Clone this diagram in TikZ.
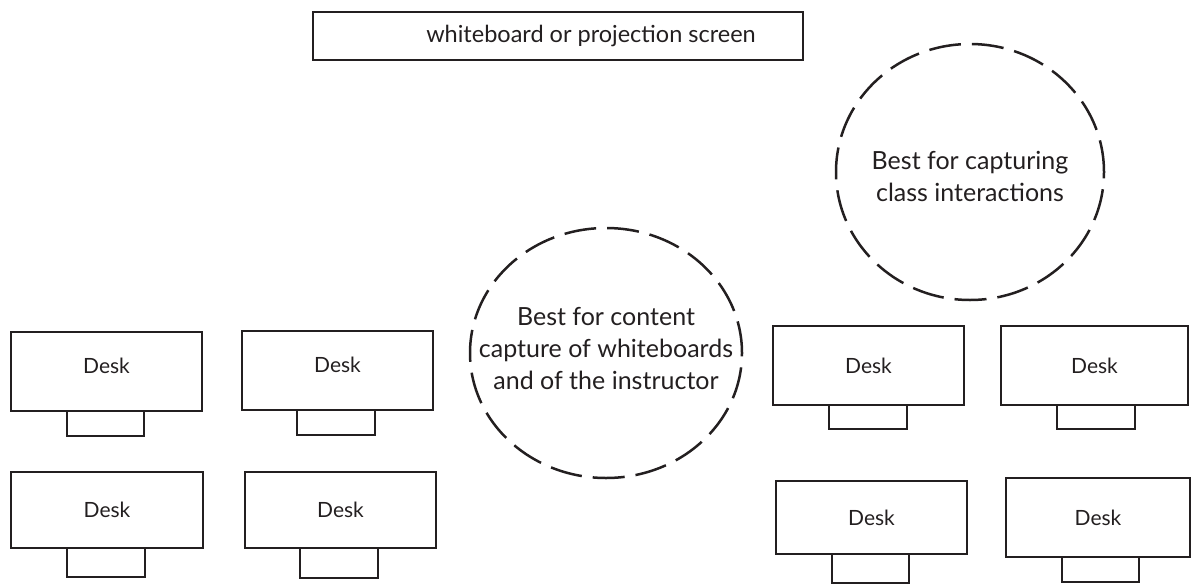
\documentclass[tikz,border=0pt]{standalone}
\usepackage{fontspec}
\setmainfont{Lato}
\usetikzlibrary{shapes.geometric}
\definecolor{ink}{HTML}{231F20}
\tikzset{
  desk/.style={draw=ink, line width=2.5pt, rectangle, inner sep=0pt, outer sep=0pt,
    font=\fontsize{21}{24}\selectfont, text=ink, text height=15pt, text depth=0pt},
  deskhi/.style={desk, text depth=12pt},
  chair/.style={draw=ink, line width=2.5pt, rectangle, inner sep=0pt, outer sep=0pt},
  board/.style={draw=ink, line width=2.5pt, rectangle, inner sep=0pt, outer sep=0pt,
    font=\fontsize{23.5}{28}\selectfont, text=ink},
  zone/.style={draw=ink, line width=2.5pt, ellipse, dash pattern=on 32pt off 11pt,
    inner sep=0pt},
  zonetext/.style={align=center, font=\fontsize{25}{32}\selectfont, text=ink, inner sep=0pt}
}
\begin{document}
\begin{tikzpicture}[x=1pt,y=-1pt]
\useasboundingbox (0,0) rectangle (1192,584);
\node[board, minimum width=490, minimum height=48] (wb) at (558,36) {\hspace*{66pt}whiteboard or projection screen};
\node[zone, minimum width=268, minimum height=256,
  label={[zonetext, yshift=-4pt]center:Best for capturing\\class interactions}] (z1) at (970,172) {};
\node[zone, minimum width=272, minimum height=250,
  label={[zonetext, yshift=4pt]center:Best for content\\capture of whiteboards\\and of the instructor}] (z2) at (606,353) {};
% left desks
\node[deskhi, minimum width=191, minimum height=79] (d1) at (106.5,371.5) {Desk};
\node[chair, minimum width=77, minimum height=25] (c1) at (105.5,423.5) {};
\node[deskhi, minimum width=191, minimum height=79] (d2) at (337.5,370.5) {Desk};
\node[chair, minimum width=78, minimum height=25] (c2) at (336,422.5) {};
\node[desk, minimum width=192, minimum height=76] (d3) at (107,510) {Desk};
\node[chair, minimum width=78, minimum height=29] (c3) at (106,562.5) {};
\node[desk, minimum width=191, minimum height=76] (d4) at (340.5,510) {Desk};
\node[chair, minimum width=78, minimum height=30] (c4) at (339,563) {};
% right desks
\node[desk, minimum width=191, minimum height=79] (d5) at (868.5,365.5) {Desk};
\node[chair, minimum width=78, minimum height=24] (c5) at (868,417) {};
\node[desk, minimum width=187, minimum height=79] (d6) at (1094.5,365.5) {Desk};
\node[chair, minimum width=78, minimum height=24] (c6) at (1096,417) {};
\node[desk, minimum width=191, minimum height=73] (d7) at (871.5,517.5) {Desk};
\node[chair, minimum width=77, minimum height=29] (c7) at (870.5,568.5) {};
\node[desk, minimum width=184, minimum height=79] (d8) at (1098,517.5) {Desk};
\node[chair, minimum width=77, minimum height=25] (c8) at (1100.5,569.5) {};
\end{tikzpicture}
\end{document}
